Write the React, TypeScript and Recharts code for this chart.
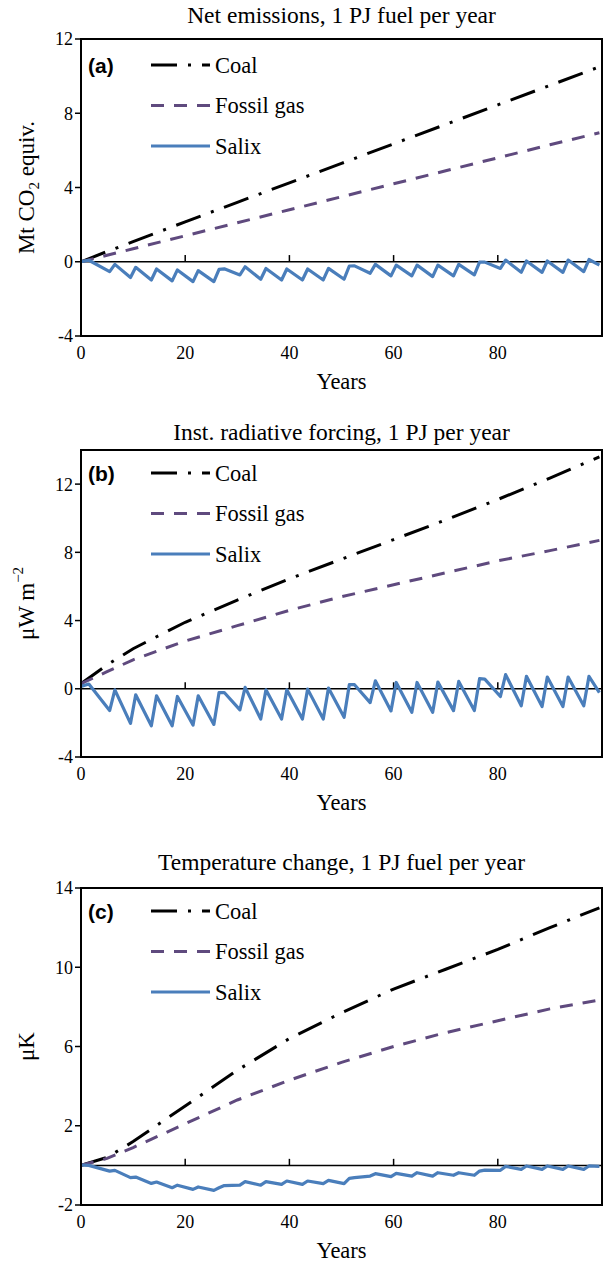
import React from 'react';
import { LineChart, Line, XAxis, YAxis, ReferenceLine, ReferenceArea, Legend } from 'recharts';

// ---------- data ----------
const fossilYears = [0, 5, 10, 20, 30, 40, 50, 60, 70, 80, 90, 99.5];
const coalEmissions = [0, 0.55, 1.08, 2.15, 3.2, 4.25, 5.3, 6.35, 7.4, 8.45, 9.5, 10.5];
const gasEmissions = [0, 0.35, 0.7, 1.4, 2.1, 2.8, 3.5, 4.2, 4.9, 5.6, 6.3, 6.95];
const coalForcing = [0.3, 1.4, 2.35, 3.9, 5.2, 6.45, 7.6, 8.75, 9.9, 11.1, 12.35, 13.6];
const gasForcing = [0.3, 1.0, 1.7, 2.8, 3.7, 4.6, 5.4, 6.1, 6.8, 7.5, 8.1, 8.7];
const coalTemp = [0, 0.4, 1.2, 3.0, 4.8, 6.4, 7.7, 8.9, 9.9, 10.9, 12.0, 13.0];
const gasTemp = [0, 0.35, 0.9, 2.1, 3.3, 4.3, 5.2, 6.0, 6.7, 7.3, 7.9, 8.35];

const salixYears = [
  0, 1.5, 5.5, 6.5, 9.5, 10.5, 13.5, 14.5, 17.5, 18.5, 21.5, 22.5, 25.5, 26.5, 27.5,
  30.5, 31.5, 34.5, 35.5, 38.5, 39.5, 42.5, 43.5, 46.5, 47.5, 50.5, 51.5, 52.5,
  55.5, 56.5, 59.5, 60.5, 63.5, 64.5, 67.5, 68.5, 71.5, 72.5, 75.5, 76.5, 77.5,
  80.5, 81.5, 84.5, 85.5, 88.5, 89.5, 92.5, 93.5, 96.5, 97.5, 99.5,
];
const salixEmissions = [
  0, 0.08, -0.53, -0.14, -0.85, -0.3, -0.98, -0.39, -1.03, -0.44, -1.07, -0.48, -1.07, -0.41, -0.38,
  -0.71, -0.27, -0.94, -0.36, -0.98, -0.39, -0.98, -0.39, -0.98, -0.36, -0.94, -0.23, -0.22,
  -0.62, -0.14, -0.76, -0.18, -0.76, -0.18, -0.8, -0.18, -0.76, -0.14, -0.71, -0.02, -0.02,
  -0.36, 0.09, -0.57, 0.04, -0.57, 0.04, -0.57, 0.09, -0.53, 0.12, -0.18,
];
const salixForcing = [
  0.14, 0.28, -1.28, -0.06, -2.03, -0.35, -2.17, -0.41, -2.17, -0.45, -2.13, -0.41, -2.09, -0.22, -0.22,
  -1.24, 0.08, -1.77, -0.06, -1.77, -0.06, -1.77, -0.02, -1.77, 0.04, -1.67, 0.24, 0.24,
  -0.81, 0.47, -1.3, 0.37, -1.38, 0.37, -1.38, 0.39, -1.28, 0.43, -1.28, 0.59, 0.57,
  -0.45, 0.83, -1.0, 0.73, -1.04, 0.69, -1.04, 0.69, -1.0, 0.73, -0.22,
];
const salixTemp = [
  0.02, 0.0, -0.29, -0.25, -0.62, -0.59, -0.91, -0.84, -1.13, -1.0, -1.21, -1.09, -1.26, -1.13, -1.02,
  -1.0, -0.82, -1.0, -0.82, -0.96, -0.79, -0.96, -0.79, -0.92, -0.76, -0.92, -0.66, -0.62,
  -0.54, -0.42, -0.57, -0.4, -0.54, -0.37, -0.54, -0.37, -0.5, -0.37, -0.5, -0.29, -0.24,
  -0.25, -0.05, -0.2, -0.03, -0.2, -0.03, -0.2, -0.03, -0.2, -0.03, -0.05,
];

const xTicks = [0, 20, 40, 60, 80];
const innerTicks = [20, 40, 60, 80];
const yTicksA = [-4, 0, 4, 8, 12];
const yTicksB = [-4, 0, 4, 8, 12];
const yTicksC = [-2, 2, 6, 10, 14];
const seriesNames = ['Coal', 'Fossil gas', 'Salix'];

// ---------- styles ----------
const SERIF = '"Liberation Serif", "Times New Roman", serif';
const SANS = '"Liberation Sans", Arial, sans-serif';
const COLORS: Record<string, string> = { Coal: '#000000', 'Fossil gas': '#5f4a7e', Salix: '#4a7ebb' };
const DASH: Record<string, string | undefined> = { Coal: '26 11 3 11', 'Fossil gas': '13 10', Salix: undefined };

const zip = (xs: number[], ys: number[]) => xs.map((x, i) => ({ x, v: ys[i] }));

type PanelProps = {
  top: number;
  height: number;
  margin: { top: number; right: number; bottom: number; left: number };
  title: string;
  titleY: number;
  letter: string;
  legendDy: number;
  domain: [number, number];
  ticks: number[];
  tickLen: number;
  yLabel: React.ReactNode;
  coal: number[];
  gas: number[];
  salix: number[];
};

const LegendBox = ({ letter }: { letter: string }) => (
  <svg width={260} height={110} style={{ display: 'block', overflow: 'visible' }}>
    <text x={0} y={12} dominantBaseline="central" fontFamily={SANS} fontWeight="bold" fontSize={21} fill="#000">
      ({letter})
    </text>
    {seriesNames.map((n, i) => (
      <g key={n}>
        <line
          x1={63}
          x2={122}
          y1={12 + i * 40.5}
          y2={12 + i * 40.5}
          stroke={COLORS[n]}
          strokeWidth={3.2}
          strokeDasharray={DASH[n]}
        />
        <text x={127} y={12 + i * 40.5} dominantBaseline="central" fontFamily={SERIF} fontSize={22.5} fill="#000">
          {n}
        </text>
      </g>
    ))}
  </svg>
);

const Panel = (p: PanelProps) => {
  const tickStyle = { fontFamily: SERIF, fontSize: 18, fill: '#000' };
  return (
    <div style={{ position: 'absolute', left: 0, top: p.top, width: 606, height: p.height }}>
      <div
        style={{
          position: 'absolute',
          left: 81,
          width: 521,
          top: p.titleY - p.top - 13,
          height: 26,
          lineHeight: '26px',
          textAlign: 'center',
          fontFamily: SERIF,
          fontSize: 23.5,
          color: '#000',
          whiteSpace: 'nowrap',
        }}
      >
        {p.title}
      </div>
      <LineChart width={606} height={p.height} margin={p.margin}>
        <XAxis
          type="number"
          dataKey="x"
          domain={[0, 100]}
          ticks={xTicks}
          allowDataOverflow
          height={40}
          tickSize={0}
          tickMargin={10}
          tickLine={false}
          axisLine={{ stroke: '#000', strokeWidth: 2 }}
          tick={tickStyle}
          label={(props: any) => {
            const vb = props.viewBox || {};
            return (
              <text
                x={vb.x + vb.width / 2}
                y={vb.y + 53}
                textAnchor="middle"
                fontFamily={SERIF}
                fontSize={22.5}
                fill="#000"
              >
                Years
              </text>
            );
          }}
        />
        <YAxis
          type="number"
          domain={p.domain}
          ticks={p.ticks}
          allowDataOverflow
          width={81}
          tickSize={6}
          tickMargin={2}
          tickLine={{ stroke: '#000', strokeWidth: 1.5 }}
          axisLine={{ stroke: '#000', strokeWidth: 2 }}
          tick={tickStyle}
          label={(props: any) => {
            const vb = props.viewBox || {};
            const cx = 26;
            const cy = vb.y + vb.height / 2;
            return (
              <text
                x={cx}
                y={cy}
                transform={`rotate(-90, ${cx}, ${cy})`}
                textAnchor="middle"
                dominantBaseline="central"
                fontFamily={SERIF}
                fontSize={23}
                fill="#000"
              >
                {p.yLabel}
              </text>
            );
          }}
        />
        <ReferenceArea
          x1={0}
          x2={100}
          y1={p.domain[0]}
          y2={p.domain[1]}
          fill="none"
          stroke="#000"
          strokeWidth={2}
          ifOverflow="visible"
        />
        <ReferenceLine y={0} stroke="#000" strokeWidth={1.5} />
        {innerTicks.map((t) => (
          <ReferenceLine
            key={t}
            segment={[
              { x: t, y: 0 },
              { x: t, y: p.tickLen },
            ]}
            stroke="#000"
            strokeWidth={1.5}
            ifOverflow="visible"
          />
        ))}
        <Line
          data={zip(fossilYears, p.coal)}
          dataKey="v"
          name="Coal"
          stroke={COLORS.Coal}
          strokeWidth={3}
          strokeDasharray={DASH.Coal}
          dot={false}
          activeDot={false}
          type="linear"
          isAnimationActive={false}
        />
        <Line
          data={zip(fossilYears, p.gas)}
          dataKey="v"
          name="Fossil gas"
          stroke={COLORS['Fossil gas']}
          strokeWidth={3}
          strokeDasharray={DASH['Fossil gas']}
          dot={false}
          activeDot={false}
          type="linear"
          isAnimationActive={false}
        />
        <Line
          data={zip(salixYears, p.salix)}
          dataKey="v"
          name="Salix"
          stroke={COLORS.Salix}
          strokeWidth={3.2}
          strokeLinejoin="round"
          dot={false}
          activeDot={false}
          type="linear"
          isAnimationActive={false}
        />
        <Legend
          layout="vertical"
          align="center"
          verticalAlign="middle"
          wrapperStyle={{ left: 88, top: p.margin.top + p.legendDy, width: 260, height: 110 }}
          content={() => <LegendBox letter={p.letter} />}
        />
      </LineChart>
    </div>
  );
}

export default function App() {
  return (
    <div
      style={{
        position: 'absolute',
        left: 0,
        top: 0,
        width: 606,
        height: 1263,
        background: '#fff',
        overflow: 'hidden',
      }}
    >
      <Panel
        top={0}
        height={400}
        margin={{ top: 39, right: 4, bottom: 24, left: 0 }}
        title="Net emissions, 1 PJ fuel per year"
        titleY={15}
        letter="a"
        legendDy={14}
        domain={[-4, 12]}
        ticks={yTicksA}
        tickLen={0.36}
        yLabel={
          <>
            Mt CO<tspan baselineShift="sub" fontSize="15">2</tspan>
            <tspan> equiv.</tspan>
          </>
        }
        coal={coalEmissions}
        gas={gasEmissions}
        salix={salixEmissions}
      />
      <Panel
        top={400}
        height={420}
        margin={{ top: 50, right: 4, bottom: 23, left: 0 }}
        title="Inst. radiative forcing, 1 PJ per year"
        titleY={432}
        letter="b"
        legendDy={11}
        domain={[-4, 14]}
        ticks={yTicksB}
        tickLen={0.38}
        yLabel={
          <>
            μW m<tspan baselineShift="super" fontSize="15">−2</tspan>
          </>
        }
        coal={coalForcing}
        gas={gasForcing}
        salix={salixForcing}
      />
      <Panel
        top={820}
        height={443}
        margin={{ top: 68, right: 4, bottom: 18, left: 0 }}
        title="Temperature change, 1 PJ fuel per year"
        titleY={862}
        letter="c"
        legendDy={11}
        domain={[-2, 14]}
        ticks={yTicksC}
        tickLen={0.33}
        yLabel={<>μK</>}
        coal={coalTemp}
        gas={gasTemp}
        salix={salixTemp}
      />
    </div>
  );
}
